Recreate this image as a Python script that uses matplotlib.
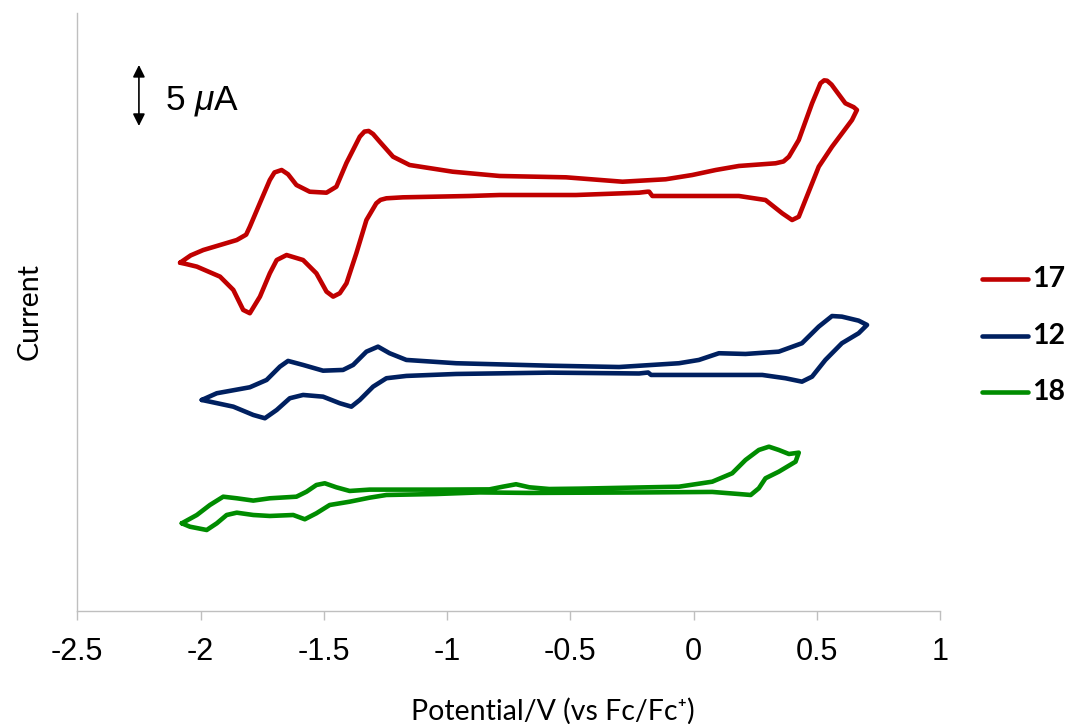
import matplotlib
matplotlib.use("Agg")
import matplotlib.pyplot as plt
from matplotlib.lines import Line2D

# ---------------- data (potential in V vs Fc/Fc+, current in uA, arbitrary offset) ----
pot_17 = [-2.083, -2.040, -1.989, -1.853, -1.815, -1.800, -1.759, -1.719, -1.700, -1.671,
          -1.645, -1.611, -1.557, -1.489, -1.449, -1.408, -1.354, -1.335, -1.318, -1.300,
          -1.273, -1.219, -1.152, -0.977, -0.787, -0.517,
          -0.288, -0.113, -0.005, 0.090, 0.184, 0.333, 0.365, 0.387, 0.427, 0.481, 0.515,
          0.530, 0.542, 0.560, 0.576, 0.616, 0.650, 0.663,
          0.643, 0.562, 0.508, 0.454, 0.427, 0.400, 0.360, 0.292, 0.184, -0.167,
          -0.180, -0.187, -0.221, -0.477, -0.787, -0.909, -1.179, -1.246, -1.270, -1.287, -1.327,
          -1.368, -1.408, -1.435, -1.462, -1.489, -1.530, -1.584, -1.651, -1.691, -1.719,
          -1.759, -1.800, -1.827, -1.867, -1.921, -2.015, -2.060, -2.083]
cur_17 = [28.30, 28.90, 29.34, 30.16, 30.60, 31.25, 33.20, 35.08, 35.70, 35.90,
          35.55, 34.67, 34.12, 34.04, 34.53, 36.48, 38.63, 39.05, 39.10, 38.85,
          38.22, 36.99, 36.31, 35.76, 35.41, 35.30,
          34.94, 35.14, 35.49, 35.90, 36.23, 36.45, 36.60, 36.99, 38.36, 41.37, 43.01,
          43.25, 43.22, 42.90, 42.46, 41.37, 41.05, 40.82,
          40.00, 37.81, 36.17, 33.44, 32.07, 31.80, 32.35, 33.44, 33.77, 33.77,
          34.12, 34.12, 34.04, 33.85, 33.85, 33.77, 33.66, 33.58, 33.45, 33.17, 31.80,
          29.07, 26.61, 25.80, 25.52, 25.93, 27.43, 28.52, 28.93, 28.52, 27.43,
          25.52, 24.16, 24.43, 26.07, 27.16, 27.98, 28.20, 28.30]

pot_12 = [-1.995, -1.934, -1.800, -1.732, -1.678, -1.645, -1.584, -1.503, -1.422, -1.381,
          -1.327, -1.280, -1.233, -1.165, -0.963, -0.585, -0.302, -0.059, 0.022, 0.103,
          0.211, 0.346, 0.440, 0.508, 0.562, 0.602, 0.670, 0.704,
          0.670, 0.602, 0.535, 0.481, 0.440, 0.373, 0.279, -0.059, -0.172, -0.184,
          -0.221, -0.585, -0.963, -1.165, -1.246, -1.300, -1.354, -1.388, -1.435, -1.503,
          -1.584, -1.638, -1.691, -1.739, -1.786, -1.867, -1.962, -1.995]
cur_12 = [17.05, 17.60, 18.09, 18.69, 19.78, 20.25, 19.92, 19.45, 19.51, 19.92,
          21.01, 21.42, 20.88, 20.33, 20.06, 19.86, 19.75, 20.06, 20.33, 20.88,
          20.82, 21.01, 21.70, 23.06, 23.93, 23.88, 23.55, 23.20,
          22.52, 21.70, 20.33, 18.96, 18.55, 18.83, 19.10, 19.10, 19.10, 19.30,
          19.22, 19.29, 19.18, 19.02, 18.83, 18.14, 17.05, 16.50, 16.78, 17.32,
          17.46, 17.19, 16.23, 15.55, 15.82, 16.50, 16.91, 17.05]

pot_18 = [-2.076, -2.015, -1.962, -1.908, -1.853, -1.786, -1.719, -1.611, -1.570, -1.530,
          -1.496, -1.449, -1.395, -1.314, -1.044, -0.828, -0.774, -0.720, -0.666, -0.585,
          -0.464, -0.059, 0.076, 0.157, 0.211, 0.265, 0.306, 0.346, 0.387, 0.427,
          0.414, 0.346, 0.292, 0.265, 0.232, 0.184, 0.076, -0.194, -0.666, -0.868,
          -1.044, -1.246, -1.314, -1.395, -1.476, -1.530, -1.577, -1.624, -1.719, -1.786,
          -1.853, -1.894, -1.934, -1.975, -2.043, -2.076]
cur_18 = [6.94, 7.62, 8.44, 9.12, 8.99, 8.80, 8.99, 9.12, 9.53, 10.08,
          10.22, 9.89, 9.59, 9.70, 9.70, 9.72, 9.94, 10.14, 9.89, 9.75,
          9.78, 9.94, 10.35, 11.04, 12.13, 12.95, 13.22, 12.95, 12.62, 12.73,
          11.99, 11.17, 10.63, 9.81, 9.26, 9.34, 9.51, 9.47, 9.43, 9.47,
          9.34, 9.26, 9.04, 8.71, 8.44, 7.76, 7.27, 7.62, 7.54, 7.62,
          7.81, 7.62, 6.94, 6.39, 6.66, 6.94]

labels = ["17", "12", "18"]
colors = ["#C00000", "#002060", "#008C00"]
xticks = [-2.5, -2, -1.5, -1, -0.5, 0, 0.5, 1]
xtick_labels = ["-2.5", "-2", "-1.5", "-1", "-0.5", "0", "0.5", "1"]
scale_bar = 5.0  # uA

# ---------------- figure ----------------
plt.rcParams["mathtext.fontset"] = "custom"
plt.rcParams["mathtext.rm"] = "Liberation Sans"
plt.rcParams["mathtext.it"] = "Liberation Sans:italic"

W, H = 1067, 724
fig = plt.figure(figsize=(W / 100, H / 100), dpi=100)
ax = fig.add_axes([77.3 / W, 1 - 611 / H, (940 - 77.3) / W, (611 - 13) / H])
ax.set_xlim(-2.5, 1)
ax.set_ylim(-0.25, 48.77)

for (p, c), lab, col in zip([(pot_17, cur_17), (pot_12, cur_12), (pot_18, cur_18)], labels, colors):
    ax.plot(p, c, color=col, lw=3.3, solid_joinstyle="round", solid_capstyle="round")

for s in ["top", "right"]:
    ax.spines[s].set_visible(False)
for s in ["left", "bottom"]:
    ax.spines[s].set_color("#BFBFBF")
    ax.spines[s].set_linewidth(1.0)

ax.set_yticks([])
ax.set_xticks(xticks)
ax.set_xticklabels(xtick_labels, fontsize=22, family="Liberation Sans")
ax.tick_params(axis="x", direction="out", length=6.5, width=1.0, color="#BFBFBF", pad=12)

# scale bar
ax.annotate("", xy=(-2.25, 44.51), xytext=(-2.25, 44.51 - scale_bar),
            arrowprops=dict(arrowstyle="<|-|>", color="black", lw=1.2,
                            mutation_scale=18, shrinkA=0, shrinkB=0))
ax.text(-2.144, 40.82, r"5 $\mu$A", fontsize=25.5, family="Liberation Sans",
        ha="left", va="baseline")

# legend
leg_y = [1 - 279.3 / H, 1 - 335.7 / H, 1 - 391.7 / H]
for lab, col, yy in zip(labels, colors, leg_y):
    fig.add_artist(Line2D([981.7 / W, 1028 / W], [yy, yy], transform=fig.transFigure,
                          color=col, lw=3.3, solid_capstyle="round"))
    fig.text(1031.7 / W, yy, lab, fontsize=20.5, fontweight="bold", family="Lato",
             ha="left", va="center")

# axis labels
fig.text(553 / W, 1 - 720 / H, "Potential/V (vs Fc/Fc\u207a)", fontsize=20.5,
         family=["Lato", "DejaVu Sans"], ha="center", va="baseline")
fig.text(30 / W, 1 - 312 / H, "Current", fontsize=20.5, family="Lato",
         rotation=90, ha="center", va="center")

fig.savefig("out.png", dpi=100)
